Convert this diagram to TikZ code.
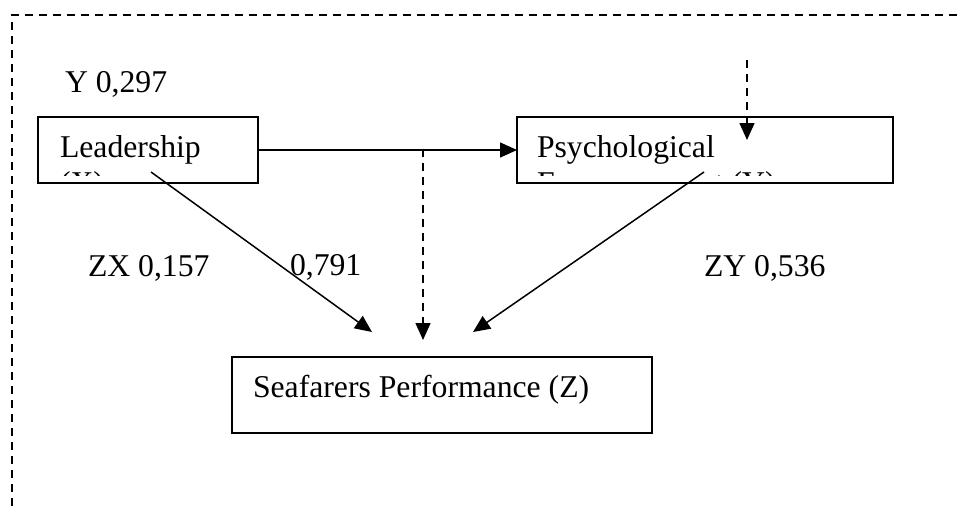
\documentclass[tikz,border=0pt]{standalone}
\usepackage{fontspec}
\setmainfont{Liberation Serif}
\usetikzlibrary{arrows.meta}
\begin{document}
\begin{tikzpicture}[x=1pt,y=-1pt,
  every node/.style={inner sep=0pt,outer sep=0pt},
  txt/.style={anchor=base west,font=\fontsize{31.7}{36}\selectfont},
  varbox/.style={draw,line width=1.8pt,rectangle},
  link/.style={line width=1.5pt,-{Triangle[length=17pt,width=15pt]}},
  dlink/.style={link,dash pattern=on 8pt off 6pt},
  frame/.style={line width=1.4pt,dash pattern=on 8pt off 6pt}]
\useasboundingbox (0,0) rectangle (960,506);

% outer dashed frame (only the top and left sides fall inside the page)
\draw[frame] (12,506) -- (12,15) -- (960,15);

% variable boxes
\node[varbox,minimum width=220pt,minimum height=66pt] (lead) at (148,150) {};
\node[varbox,minimum width=376pt,minimum height=66pt] (psy) at (705,150) {};
\node[varbox,minimum width=420pt,minimum height=76pt] (perf) at (442,395) {};

% box captions; the second line of each upper box is cut off by its frame
\begin{scope}
  \clip (40,119) rectangle (256,175);
  \node[txt] (leadt) at (60,157) {Leadership};
  \node[txt] (leadx) at (60,193) {(X)};
\end{scope}
\begin{scope}
  \clip (519,119) rectangle (891,175);
  \node[txt] (psyt) at (537,157) {Psychological};
  \node[txt] (psyx) at (537,193) {Empowerment (Y)};
\end{scope}
\node[txt] (perft) at (253,397) {Seafarers Performance (Z)};

% coefficients
\node[txt] (ly) at (65,92) {Y 0,297};
\node[txt] (lzx) at (88,276) {ZX 0,157};
\node[txt] (lxy) at (290,275) {0,791};
\node[txt] (lzy) at (704,276) {ZY 0,536};

% connector end points
\coordinate (lfoot) at (151,172);
\coordinate (pfoot) at (704,172);
\coordinate (mid) at (423,149);
\coordinate (tipl) at (372,332);
\coordinate (tipm) at (423,340);
\coordinate (tipr) at (473,332);
\coordinate (etop) at (747,60);
\coordinate (etip) at (747,140);

% paths
\draw[link] (lead.east) -- (psy.west);
\draw[link] (lfoot) -- (tipl);
\draw[link] (pfoot) -- (tipr);
\draw[dlink] (mid) -- (tipm);
\draw[dlink] (etop) -- (etip);
\end{tikzpicture}
\end{document}
